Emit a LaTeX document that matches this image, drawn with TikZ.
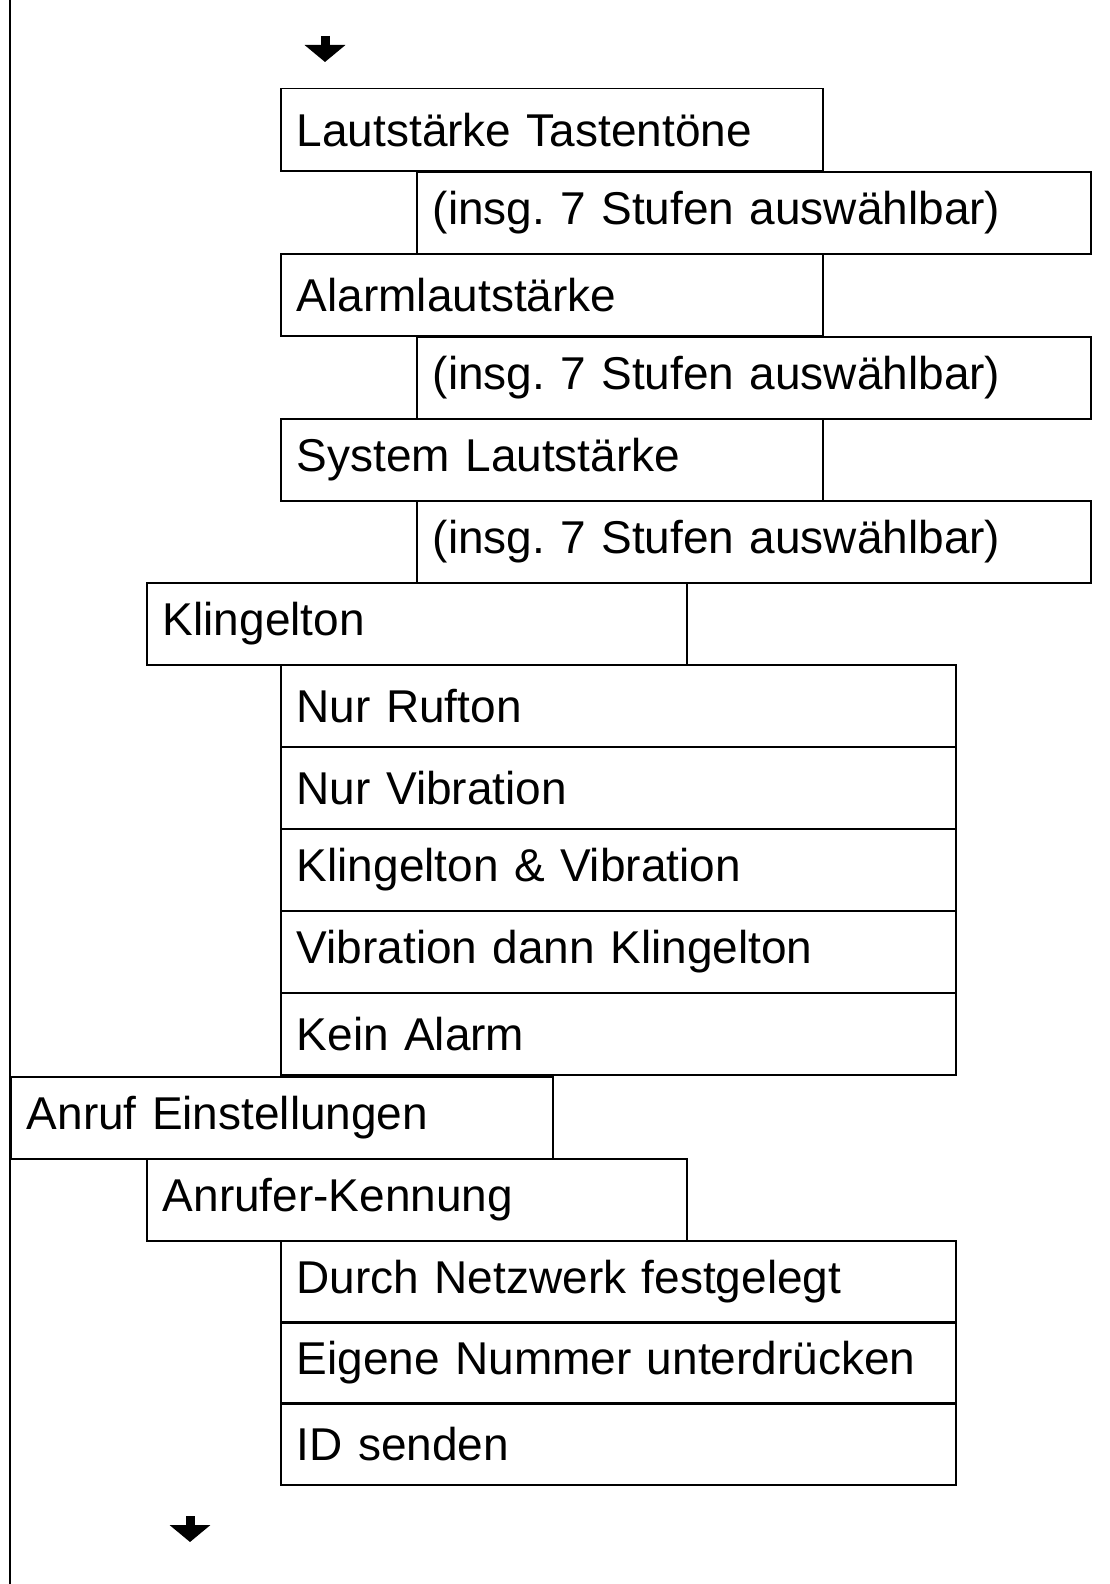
\documentclass[tikz,border=0pt]{standalone}
\usepackage{fontspec}
\setmainfont{Liberation Sans}
\usetikzlibrary{arrows.meta}
\tikzset{
  menubox/.style={draw, line width=1.5pt, anchor=north west, inner xsep=16pt, inner ysep=0pt,
    minimum height=82pt, text width=#1, align=left,
    font=\fontsize{46}{52}\selectfont},
  downarrow/.style={line width=9pt, -{Triangle[width=40pt,length=17pt]}}
}
\begin{document}
\begin{tikzpicture}[x=1pt,y=-1pt]
  \useasboundingbox (0,0) rectangle (1109,1584);
  \draw[line width=1.5pt] (10,0) -- (10,1584);
  % top and bottom arrows
  \coordinate (topa) at (325,36);
  \coordinate (topb) at (325,62);
  \draw[downarrow] (topa) -- (topb);
  \coordinate (bota) at (190,1516);
  \coordinate (botb) at (190,1542);
  \draw[downarrow] (bota) -- (botb);
  % volume
  \node[menubox=510pt] (tasten) at (280,88) {Lautstärke Tastentöne};
  \node[menubox=642pt] (stufa) at (416,171) {(insg.\ 7 Stufen auswählbar)};
  \node[menubox=510pt] (alarm) at (280,253) {Alarmlautstärke};
  \node[menubox=642pt] (stufb) at (416,336) {(insg.\ 7 Stufen auswählbar)};
  \node[menubox=510pt] (system) at (280,418) {System Lautstärke};
  \node[menubox=642pt] (stufc) at (416,500) {(insg.\ 7 Stufen auswählbar)};
  % ring tone
  \node[menubox=508pt] (klingel) at (146,582) {Klingelton};
  \node[menubox=643pt] (ruf) at (280,664) {Nur Rufton};
  \node[menubox=643pt] (vib) at (280,746) {Nur Vibration};
  \node[menubox=643pt] (klvib) at (280,828) {Klingelton \& Vibration};
  \node[menubox=643pt] (vibkl) at (280,910) {Vibration dann Klingelton};
  \node[menubox=643pt] (kein) at (280,992) {Kein Alarm};
  % call settings
  \node[menubox=510pt] (anruf) at (10,1076) {Anruf Einstellungen};
  \node[menubox=508pt] (kennung) at (146,1158) {Anrufer-Kennung};
  \node[menubox=643pt] (netz) at (280,1240) {Durch Netzwerk festgelegt};
  \node[menubox=643pt] (eigen) at (280,1321) {Eigene Nummer unterdrücken};
  \node[menubox=643pt] (idsend) at (280,1402) {ID senden};
\end{tikzpicture}
\end{document}
